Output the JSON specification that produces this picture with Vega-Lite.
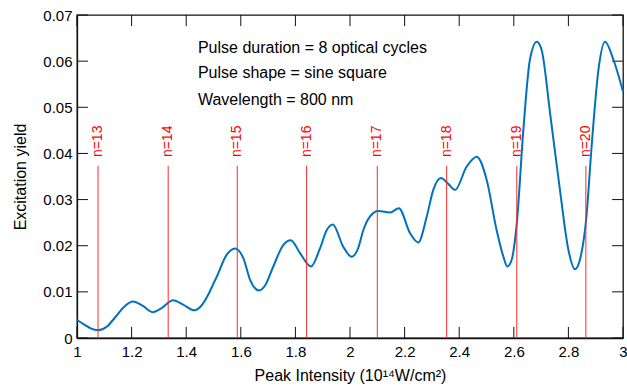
{
  "$schema": "https://vega.github.io/schema/vega-lite/v6.json",
  "width": 546,
  "height": 323,
  "autosize": "none",
  "padding": {"left": 77, "top": 15, "right": 4, "bottom": 52},
  "config": {
    "view": {"stroke": "#111111", "strokeWidth": 1.3},
    "font": "Liberation Sans",
    "axis": {
      "domainColor": "#111111",
      "domainWidth": 1.3,
      "ticks": false,
      "labelColor": "#000000",
      "labelFontSize": 15,
      "labelFont": "Liberation Sans",
      "titleFont": "Liberation Sans",
      "titleFontSize": 16,
      "titleFontWeight": "normal",
      "titleColor": "#000000",
      "grid": false
    }
  },
  "datasets": {
    "curve": [
      {"intensity": 1.000, "yield": 0.0039},
      {"intensity": 1.030, "yield": 0.0028},
      {"intensity": 1.050, "yield": 0.0021},
      {"intensity": 1.077, "yield": 0.0017},
      {"intensity": 1.110, "yield": 0.0025},
      {"intensity": 1.140, "yield": 0.0045},
      {"intensity": 1.170, "yield": 0.0066},
      {"intensity": 1.205, "yield": 0.0079},
      {"intensity": 1.240, "yield": 0.0070},
      {"intensity": 1.277, "yield": 0.0056},
      {"intensity": 1.310, "yield": 0.0065},
      {"intensity": 1.352, "yield": 0.0082},
      {"intensity": 1.390, "yield": 0.0072},
      {"intensity": 1.429, "yield": 0.0060},
      {"intensity": 1.457, "yield": 0.0071},
      {"intensity": 1.480, "yield": 0.0093},
      {"intensity": 1.500, "yield": 0.0118},
      {"intensity": 1.512, "yield": 0.0133},
      {"intensity": 1.548, "yield": 0.0180},
      {"intensity": 1.579, "yield": 0.0194},
      {"intensity": 1.610, "yield": 0.0172},
      {"intensity": 1.634, "yield": 0.0126},
      {"intensity": 1.667, "yield": 0.0103},
      {"intensity": 1.690, "yield": 0.0115},
      {"intensity": 1.719, "yield": 0.0155},
      {"intensity": 1.756, "yield": 0.0202},
      {"intensity": 1.783, "yield": 0.0212},
      {"intensity": 1.817, "yield": 0.0184},
      {"intensity": 1.857, "yield": 0.0155},
      {"intensity": 1.890, "yield": 0.0194},
      {"intensity": 1.915, "yield": 0.0234},
      {"intensity": 1.937, "yield": 0.0246},
      {"intensity": 1.975, "yield": 0.0198},
      {"intensity": 2.006, "yield": 0.0176},
      {"intensity": 2.030, "yield": 0.0195},
      {"intensity": 2.049, "yield": 0.0234},
      {"intensity": 2.073, "yield": 0.0263},
      {"intensity": 2.104, "yield": 0.0275},
      {"intensity": 2.147, "yield": 0.0272},
      {"intensity": 2.179, "yield": 0.0281},
      {"intensity": 2.220, "yield": 0.0227},
      {"intensity": 2.250, "yield": 0.0207},
      {"intensity": 2.281, "yield": 0.0263},
      {"intensity": 2.305, "yield": 0.0321},
      {"intensity": 2.333, "yield": 0.0347},
      {"intensity": 2.360, "yield": 0.0334},
      {"intensity": 2.385, "yield": 0.0321},
      {"intensity": 2.427, "yield": 0.0371},
      {"intensity": 2.464, "yield": 0.0393},
      {"intensity": 2.501, "yield": 0.0342},
      {"intensity": 2.537, "yield": 0.0234},
      {"intensity": 2.562, "yield": 0.0176},
      {"intensity": 2.576, "yield": 0.0155},
      {"intensity": 2.592, "yield": 0.0169},
      {"intensity": 2.611, "yield": 0.0249},
      {"intensity": 2.635, "yield": 0.0451},
      {"intensity": 2.659, "yield": 0.0603},
      {"intensity": 2.684, "yield": 0.0642},
      {"intensity": 2.702, "yield": 0.0624},
      {"intensity": 2.733, "yield": 0.0487},
      {"intensity": 2.769, "yield": 0.0321},
      {"intensity": 2.800, "yield": 0.0191},
      {"intensity": 2.824, "yield": 0.0149},
      {"intensity": 2.842, "yield": 0.0169},
      {"intensity": 2.866, "yield": 0.0263},
      {"intensity": 2.885, "yield": 0.0415},
      {"intensity": 2.910, "yield": 0.0581},
      {"intensity": 2.934, "yield": 0.0642},
      {"intensity": 2.965, "yield": 0.0603},
      {"intensity": 3.000, "yield": 0.0534}
    ],
    "thresholds": [
      {"intensity": 1.077, "label": "n=13"},
      {"intensity": 1.334, "label": "n=14"},
      {"intensity": 1.587, "label": "n=15"},
      {"intensity": 1.841, "label": "n=16"},
      {"intensity": 2.100, "label": "n=17"},
      {"intensity": 2.354, "label": "n=18"},
      {"intensity": 2.611, "label": "n=19"},
      {"intensity": 2.864, "label": "n=20"}
    ],
    "notes": [
      {"intensity": 1.443, "yield": 0.0629, "text": "Pulse duration = 8 optical cycles"},
      {"intensity": 1.443, "yield": 0.0575, "text": "Pulse shape = sine square"},
      {"intensity": 1.443, "yield": 0.0516, "text": "Wavelength = 800 nm"}
    ],
    "xticks": [
      {"intensity": 1}, {"intensity": 1.2}, {"intensity": 1.4}, {"intensity": 1.6}, {"intensity": 1.8},
      {"intensity": 2}, {"intensity": 2.2}, {"intensity": 2.4}, {"intensity": 2.6}, {"intensity": 2.8}, {"intensity": 3}
    ],
    "yticks": [
      {"yield": 0}, {"yield": 0.01}, {"yield": 0.02}, {"yield": 0.03},
      {"yield": 0.04}, {"yield": 0.05}, {"yield": 0.06}, {"yield": 0.07}
    ]
  },
  "layer": [
    {
      "data": {"name": "xticks"},
      "mark": {"type": "rule", "color": "#111111", "strokeWidth": 1},
      "encoding": {
        "x": {"field": "intensity", "type": "quantitative", "scale": {"domain": [1, 3], "nice": false},
              "axis": {"title": "Peak Intensity (10¹⁴W/cm²)", "labelPadding": 6, "titlePadding": 8, "format": "~g", "labelFlush": false,
                       "values": [1, 1.2, 1.4, 1.6, 1.8, 2, 2.2, 2.4, 2.6, 2.8, 3]}},
        "y": {"datum": 0, "type": "quantitative", "scale": {"domain": [0, 0.07], "nice": false},
              "axis": {"title": "Excitation yield", "labelPadding": 5, "titlePadding": 14, "format": "~g", "labelFlush": false,
                       "values": [0, 0.01, 0.02, 0.03, 0.04, 0.05, 0.06, 0.07]}},
        "y2": {"datum": 0.0024}
      }
    },
    {
      "data": {"name": "xticks"},
      "mark": {"type": "rule", "color": "#111111", "strokeWidth": 1},
      "encoding": {
        "x": {"field": "intensity", "type": "quantitative"},
        "y": {"datum": 0.0676, "type": "quantitative"},
        "y2": {"datum": 0.07}
      }
    },
    {
      "data": {"name": "yticks"},
      "mark": {"type": "rule", "color": "#111111", "strokeWidth": 1},
      "encoding": {
        "y": {"field": "yield", "type": "quantitative"},
        "x": {"datum": 1, "type": "quantitative"},
        "x2": {"datum": 1.04}
      }
    },
    {
      "data": {"name": "yticks"},
      "mark": {"type": "rule", "color": "#111111", "strokeWidth": 1},
      "encoding": {
        "y": {"field": "yield", "type": "quantitative"},
        "x": {"datum": 2.96, "type": "quantitative"},
        "x2": {"datum": 3}
      }
    },
    {
      "data": {"name": "curve"},
      "mark": {"type": "line", "color": "#0072BD", "strokeWidth": 2, "interpolate": "monotone"},
      "encoding": {
        "x": {"field": "intensity", "type": "quantitative"},
        "y": {"field": "yield", "type": "quantitative"}
      }
    },
    {
      "data": {"name": "thresholds"},
      "mark": {"type": "rule", "color": "#ff2a2a", "strokeWidth": 1},
      "encoding": {
        "x": {"field": "intensity", "type": "quantitative"},
        "y": {"datum": 0, "type": "quantitative"},
        "y2": {"datum": 0.0373}
      }
    },
    {
      "data": {"name": "thresholds"},
      "mark": {"type": "text", "color": "#ff0000", "angle": 270, "align": "left", "baseline": "middle", "fontSize": 14, "font": "Liberation Sans"},
      "encoding": {
        "x": {"field": "intensity", "type": "quantitative"},
        "y": {"datum": 0.0392, "type": "quantitative"},
        "text": {"field": "label"}
      }
    },
    {
      "data": {"name": "notes"},
      "mark": {"type": "text", "align": "left", "baseline": "middle", "fontSize": 16, "color": "#000000", "font": "Liberation Sans"},
      "encoding": {
        "x": {"field": "intensity", "type": "quantitative"},
        "y": {"field": "yield", "type": "quantitative"},
        "text": {"field": "text"}
      }
    }
  ]
}
